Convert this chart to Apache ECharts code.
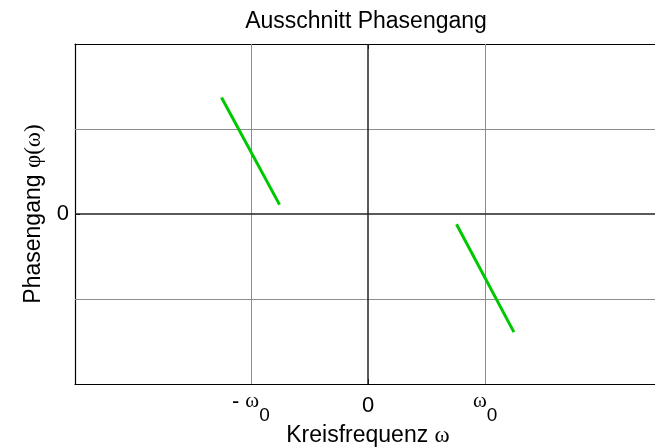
<!DOCTYPE html>
<html>
<head>
<meta charset="utf-8">
<script src="https://cdn.jsdelivr.net/npm/echarts@6/dist/echarts.min.js"></script>
<style>html,body{margin:0;padding:0;background:#fff;}#c{width:655px;height:447px;}</style>
</head>
<body>
<div id="c"></div>
<script>
// Data (x in units of omega_0)
const omegaLeft = [-1.25, -0.755];
const phaseLeft = [1.37, 0.11];
const omegaRight = [0.755, 1.245];
const phaseRight = [-0.12, -1.39];
const xTickValues = [-1, 0, 1];
const xTickLabels = ['neg', 'zero', 'pos'];
const yTickValues = [-1, 0, 1];
const yTickLabels = ['', '0', ''];

const SANS = 'Liberation Sans, Arial, sans-serif';
const SERIF = 'Liberation Serif, DejaVu Serif, serif';
const FS = 23;

const chart = echarts.init(document.getElementById('c'), null, {renderer: 'canvas'});

function pairs(xs, ys) { return xs.map((x, i) => [x, ys[i]]); }

const axisLineStyle = {color: '#000', width: 1.2};

const option = {
  animation: false,
  backgroundColor: '#fff',
  grid: {left: 75, top: 44, bottom: 63, right: -6, containLabel: false, outerBoundsMode: 'none'},
  graphic: [{
    type: 'text', x: 366, y: 10,
    style: {text: 'Ausschnitt Phasengang', font: FS + 'px ' + SANS, fill: '#000', textAlign: 'center', textVerticalAlign: 'top'}
  }],
  xAxis: [{
    type: 'value', min: -2.5, max: 2.5, position: 'bottom',
    axisLine: {show: true, onZero: false, lineStyle: axisLineStyle},
    axisTick: {show: true, inside: true, length: 5, customValues: xTickValues, lineStyle: {color: '#000'}},
    splitLine: {show: false},
    axisLabel: {
      show: true, margin: 7, customValues: xTickValues,
      formatter: function (v) {
        const k = xTickLabels[xTickValues.indexOf(v)];
        if (k === 'zero') return '{n|0}';
        if (k === 'neg') return '{m|- }{w|ω}{s|0}';
        return '{w|ω}{s|0}';
      },
      rich: {
        n: {fontSize: 22, fontFamily: SANS, color: '#000', padding: [4, 0, 0, 0], verticalAlign: 'top'},
        m: {fontSize: 22, fontFamily: SANS, color: '#000', padding: [0, 0, 15, 0], verticalAlign: 'top'},
        w: {fontSize: 21, fontFamily: SERIF, color: '#000', padding: [0, 0, 15, 0], verticalAlign: 'top'},
        s: {fontSize: 19, fontFamily: SANS, color: '#000', padding: [15, 0, 0, 0], verticalAlign: 'top'}
      }
    },
    name: 'Kreisfrequenz {g|ω}', nameLocation: 'middle', nameGap: 40, nameMoveOverlap: false,
    nameTextStyle: {fontSize: FS, fontFamily: SANS, color: '#000',
      rich: {g: {fontSize: FS, fontFamily: SERIF, color: '#000'}}}
  }, {
    type: 'value', min: -2.5, max: 2.5, position: 'top',
    axisLine: {show: true, onZero: false, lineStyle: axisLineStyle},
    axisTick: {show: true, inside: true, length: 5, customValues: xTickValues, lineStyle: {color: '#000'}},
    splitLine: {show: false},
    axisLabel: {show: false}
  }],
  yAxis: [{
    type: 'value', min: -2, max: 2, interval: 1, position: 'left',
    axisLine: {show: true, onZero: false, lineStyle: axisLineStyle},
    axisTick: {show: true, inside: true, length: 5, lineStyle: {color: '#000'}},
    splitLine: {show: false},
    axisLabel: {
      show: true, margin: 6, fontSize: 22, fontFamily: SANS, color: '#000',
      formatter: function (v) { const i = yTickValues.indexOf(v); return i >= 0 ? yTickLabels[i] : ''; }
    },
    name: 'Phasengang {g|φ(ω)}', nameLocation: 'middle', nameGap: 30, nameRotate: 90, nameMoveOverlap: false,
    nameTextStyle: {fontSize: FS, fontFamily: SANS, color: '#000',
      rich: {g: {fontSize: FS, fontFamily: SERIF, color: '#000'}}}
  }],
  series: [{
    type: 'line', data: [], z: 1, silent: true,
    markLine: {
      silent: true, symbol: 'none', label: {show: false}, animation: false,
      data: [
        {xAxis: -1, lineStyle: {color: '#8c8c8c', width: 1, type: 'solid'}},
        {xAxis: 1, lineStyle: {color: '#8c8c8c', width: 1, type: 'solid'}},
        {yAxis: 1, lineStyle: {color: '#8c8c8c', width: 1, type: 'solid'}},
        {yAxis: -1, lineStyle: {color: '#8c8c8c', width: 1, type: 'solid'}},
        {xAxis: 0, lineStyle: {color: '#222', width: 1.5, type: 'solid'}},
        {yAxis: 0, lineStyle: {color: '#222', width: 1.5, type: 'solid'}}
      ]
    }
  }, {
    type: 'line', data: pairs(omegaLeft, phaseLeft), z: 5,
    showSymbol: false, symbol: 'none', lineStyle: {color: '#00c800', width: 3}
  }, {
    type: 'line', data: pairs(omegaRight, phaseRight), z: 5,
    showSymbol: false, symbol: 'none', lineStyle: {color: '#00c800', width: 3}
  }]
};
chart.setOption(option);
</script>
</body>
</html>
